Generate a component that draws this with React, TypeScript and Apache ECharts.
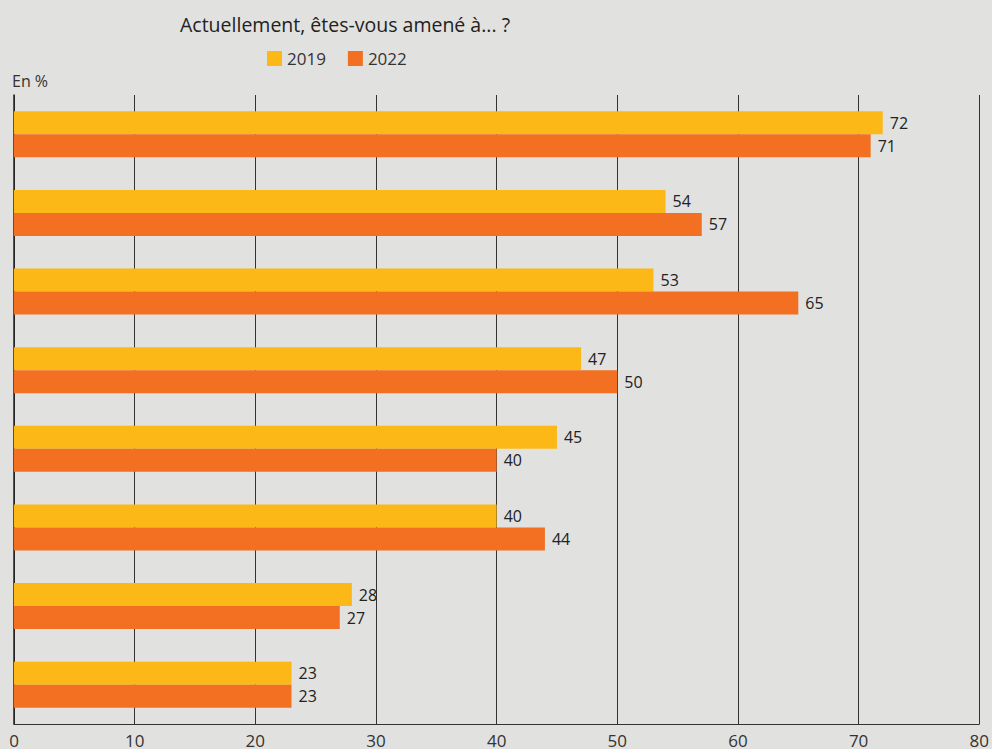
import React, { useEffect, useRef } from "react";
import * as echarts from "echarts";

const categories = ["Q1", "Q2", "Q3", "Q4", "Q5", "Q6", "Q7", "Q8"];
const values2019 = [72, 54, 53, 47, 45, 40, 28, 23];
const values2022 = [71, 57, 65, 50, 40, 44, 27, 23];
const seriesNames = ["2019", "2022"];
const titleText = "Actuellement, êtes-vous amené à... ?";
const unitText = "En %";

const FONT = "'Open Sans', 'Noto Sans', sans-serif";

export default function App() {
  const ref = useRef<HTMLDivElement>(null);
  useEffect(() => {
    if (!ref.current) return;
    const chart = echarts.init(ref.current, undefined, { renderer: "svg" });
    const labelStyle = {
      show: true,
      position: "right" as const,
      distance: 7,
      color: "#222",
      fontSize: 16,
      fontFamily: FONT,
    };
    chart.setOption({
      animation: false,
      backgroundColor: "#e1e1df",
      textStyle: { fontFamily: FONT },
      title: {
        text: titleText,
        left: 175,
        top: 9,
        textStyle: { fontSize: 19.5, fontWeight: "normal", color: "#222", fontFamily: FONT },
      },
      legend: {
        data: seriesNames,
        left: 262,
        top: 45,
        icon: "rect",
        itemWidth: 15,
        itemHeight: 15,
        itemGap: 22,
        textStyle: { fontSize: 17, color: "#333", fontFamily: FONT },
      },
      graphic: [
        {
          type: "text",
          left: 12,
          top: 73,
          style: { text: unitText, fontSize: 16, fill: "#333", fontFamily: FONT },
        },
      ],
      grid: { left: 14, right: 9, top: 95, bottom: 25 },
      xAxis: {
        type: "value",
        min: 0,
        max: 80,
        interval: 10,
        axisLine: { show: true, lineStyle: { color: "#333", width: 1 } },
        axisTick: { show: false },
        splitLine: { show: true, lineStyle: { color: "#333", width: 1 } },
        axisLabel: { color: "#333", fontSize: 17, margin: 8, fontFamily: FONT },
      },
      yAxis: {
        type: "category",
        data: categories,
        inverse: true,
        axisLine: { show: true, lineStyle: { color: "#222", width: 1.5 } },
        axisTick: { show: false },
        axisLabel: { show: false },
      },
      series: [
        {
          name: seriesNames[0],
          type: "bar",
          data: values2019,
          barWidth: 23,
          barGap: "0%",
          itemStyle: { color: "#fbb817" },
          label: labelStyle,
        },
        {
          name: seriesNames[1],
          type: "bar",
          data: values2022,
          barWidth: 23,
          barGap: "0%",
          itemStyle: { color: "#f37022" },
          label: labelStyle,
        },
      ],
    });
    return () => chart.dispose();
  }, []);
  return (
    <div
      ref={ref}
      style={{ position: "fixed", left: 0, top: 0, width: 992, height: 749 }}
    />
  );
}
